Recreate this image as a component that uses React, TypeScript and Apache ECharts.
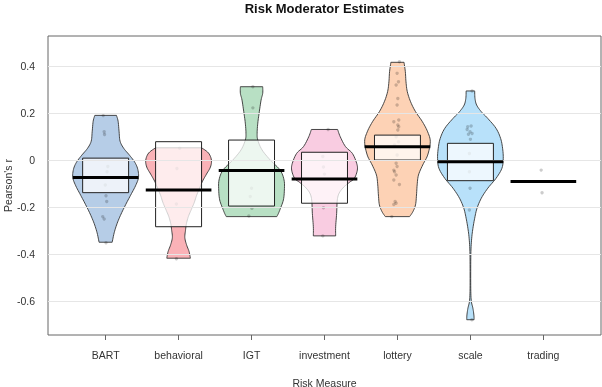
import React, { useEffect, useRef } from "react";
import * as echarts from "echarts";

const categories = ["BART", "behavioral", "IGT", "investment", "lottery", "scale", "trading"];
const baseColors = ["#0C5BB0", "#EE0011", "#15983D", "#EC579A", "#FA6B09", "#149BED", "#A1C720"];
const yTicks = [-0.6, -0.4, -0.2, 0, 0.2, 0.4];

const means = [-0.074, -0.128, -0.045, -0.081, 0.057, -0.007, -0.092];
const boxLow = [-0.139, -0.284, -0.196, -0.184, 0.0, -0.088, null];
const boxHigh = [0.008, 0.078, 0.085, 0.033, 0.106, 0.071, null];

// violin outlines: value levels and relative density (1 = widest)
const violinY_BART = [0.19, 0.165, 0.12, 0.08, 0.05, 0.02, -0.01, -0.04, -0.075, -0.11, -0.15, -0.19, -0.23, -0.27, -0.31, -0.35];
const violinD_BART = [0.33, 0.38, 0.41, 0.44, 0.55, 0.73, 0.89, 0.98, 1, 0.91, 0.76, 0.61, 0.47, 0.35, 0.26, 0.2];

const violinY_behavioral = [0.052, 0.03, 0.0, -0.03, -0.06, -0.09, -0.12, -0.15, -0.18, -0.21, -0.24, -0.27, -0.3, -0.33, -0.36, -0.39, -0.418];
const violinD_behavioral = [0.7, 0.91, 1, 0.97, 0.85, 0.73, 0.64, 0.55, 0.48, 0.39, 0.3, 0.24, 0.21, 0.19, 0.24, 0.32, 0.36];

const violinY_IGT = [0.312, 0.284, 0.255, 0.199, 0.157, 0.114, 0.085, 0.043, 0.0, -0.043, -0.085, -0.128, -0.17, -0.206, -0.227, -0.241];
const violinD_IGT = [0.34, 0.34, 0.29, 0.23, 0.19, 0.17, 0.19, 0.32, 0.57, 0.87, 0.99, 1, 0.97, 0.88, 0.82, 0.77];

const violinY_investment = [0.13, 0.099, 0.057, 0.028, -0.014, -0.043, -0.078, -0.095, -0.115, -0.14, -0.17, -0.227, -0.284, -0.323];
const violinD_investment = [0.4, 0.48, 0.64, 0.85, 0.98, 1, 0.91, 0.76, 0.59, 0.45, 0.39, 0.37, 0.34, 0.34];

const violinY_lottery = [0.416, 0.376, 0.333, 0.291, 0.248, 0.206, 0.163, 0.12, 0.078, 0.021, -0.021, -0.064, -0.106, -0.149, -0.191, -0.22, -0.241];
const violinD_lottery = [0.2, 0.24, 0.26, 0.3, 0.4, 0.55, 0.76, 0.92, 1, 0.92, 0.77, 0.64, 0.6, 0.58, 0.55, 0.47, 0.37];

const violinY_scale = [0.294, 0.262, 0.234, 0.206, 0.177, 0.135, 0.092, 0.05, 0.007, -0.035, -0.078, -0.12, -0.163, -0.206, -0.248, -0.291, -0.333, -0.39, -0.475, -0.56, -0.603, -0.631, -0.66, -0.68];
const violinD_scale = [0.13, 0.14, 0.19, 0.33, 0.53, 0.78, 0.92, 0.98, 1, 0.96, 0.78, 0.53, 0.33, 0.2, 0.13, 0.076, 0.039, 0.015, 0.009, 0.012, 0.03, 0.076, 0.106, 0.112];

// raw observations: [Pearson's r, horizontal jitter in category units]
const points_BART = [[0.189, -0.033], [0.12, -0.02], [0.109, -0.015], [-0.028, 0.03], [-0.05, 0.02], [-0.106, -0.005], [-0.152, 0.005], [-0.177, 0.015], [-0.241, -0.04], [-0.251, -0.02], [-0.352, 0.005]];
const points_behavioral = [[0.05, 0.015], [-0.036, -0.023], [-0.187, -0.03], [-0.42, -0.03]];
const points_IGT = [[0.312, 0.018], [0.222, 0.018], [-0.12, 0.0], [-0.155, -0.018], [-0.206, 0.005], [-0.238, -0.037]];
const points_investment = [[0.13, 0.05], [0.015, -0.023], [-0.03, -0.014], [-0.06, 0.0], [-0.203, -0.014], [-0.323, -0.023]];
const points_lottery = [[0.418, 0.027], [0.369, -0.005], [0.333, 0.014], [0.319, -0.018], [0.262, 0.005], [0.234, -0.005], [0.163, -0.05], [0.17, 0.018], [0.149, 0.005], [0.142, 0.018], [0.128, 0.005], [0.099, -0.018], [0.078, 0.014], [0.064, -0.04], [0.021, -0.005], [-0.014, -0.018], [-0.028, -0.005], [-0.043, -0.05], [-0.05, -0.04], [-0.064, -0.018], [-0.085, -0.05], [-0.104, 0.027], [-0.177, -0.032], [-0.184, -0.018], [-0.189, -0.05], [-0.241, -0.078]];
const points_scale = [[0.294, 0.023], [0.142, -0.037], [0.145, 0.01], [0.13, -0.045], [0.12, -0.005], [0.113, 0.023], [0.11, -0.027], [0.088, 0.0], [0.028, -0.014], [-0.007, 0.0], [-0.05, -0.014], [-0.12, -0.005], [-0.213, -0.014], [-0.68, 0.02]];
const points_trading = [[-0.043, -0.03], [-0.139, -0.018]];

const violinLevels = [violinY_BART, violinY_behavioral, violinY_IGT, violinY_investment, violinY_lottery, violinY_scale, null];
const violinDensity = [violinD_BART, violinD_behavioral, violinD_IGT, violinD_investment, violinD_lottery, violinD_scale, null];
const pointSets = [points_BART, points_behavioral, points_IGT, points_investment, points_lottery, points_scale, points_trading];

const BEAN_HALF = 0.45;
const BOX_HALF = 0.315;
const FONT = "'Liberation Sans', Arial, sans-serif";

function rgba(hex: string, a: number) {
  const n = parseInt(hex.slice(1), 16);
  return `rgba(${(n >> 16) & 255},${(n >> 8) & 255},${n & 255},${a})`;
}

function cr(p0: number, p1: number, p2: number, p3: number, t: number) {
  return 0.5 * (2 * p1 + (-p0 + p2) * t + (2 * p0 - 5 * p1 + 4 * p2 - p3) * t * t + (-p0 + 3 * p1 - 3 * p2 + p3) * t * t * t);
}

function smoothProfile(ys: number[], ds: number[], steps = 6) {
  const out: [number, number][] = [];
  const n = ys.length;
  for (let i = 0; i < n - 1; i++) {
    const i0 = Math.max(0, i - 1);
    const i3 = Math.min(n - 1, i + 2);
    for (let s = 0; s < steps; s++) {
      const t = s / steps;
      out.push([cr(ys[i0], ys[i], ys[i + 1], ys[i3], t), Math.max(0.006, cr(ds[i0], ds[i], ds[i + 1], ds[i3], t))]);
    }
  }
  out.push([ys[n - 1], ds[n - 1]]);
  return out;
}

export default function App() {
  const ref = useRef<HTMLDivElement>(null);

  useEffect(() => {
    if (!ref.current) return;
    const chart = echarts.init(ref.current, null, { renderer: "svg" });

    const violinData: any[] = [];
    const violinProfiles: [number, number][][] = [];
    categories.forEach((c, i) => {
      const ys = violinLevels[i];
      const ds = violinDensity[i];
      if (ys && ds) {
        violinData.push({ value: [i + 1, means[i]], fill: rgba(baseColors[i], 0.3) });
        violinProfiles.push(smoothProfile(ys, ds));
      }
    });

    const boxData: number[][] = [];
    categories.forEach((c, i) => {
      const lo = boxLow[i];
      const hi = boxHigh[i];
      if (lo !== null && hi !== null) boxData.push([i + 1, lo as number, hi as number]);
    });

    const meanData = means.map((m, i) => [i + 1, m]);

    const scatterData: number[][] = [];
    pointSets.forEach((set, i) => {
      set.forEach(([r, j]) => scatterData.push([i + 1 + j, r]));
    });

    const nameStyle = { fontSize: 10.5, fontFamily: FONT, fill: "#333", align: "center", verticalAlign: "middle" };

    const option: any = {
      animation: false,
      title: {
        text: "Risk Moderator Estimates",
        left: 324.5,
        textAlign: "center",
        top: 1.5,
        padding: 0,
        textStyle: { fontSize: 13, fontWeight: "bold", color: "#111", fontFamily: FONT },
      },
      graphic: [
        { type: "text", x: 324.5, y: 382.5, silent: true, style: { ...nameStyle, text: "Risk Measure" } },
        { type: "text", x: 8, y: 185.5, rotation: Math.PI / 2, silent: true, style: { ...nameStyle, text: "Pearson's r" } },
      ],
      grid: {
        left: 48,
        right: 1,
        top: 36,
        bottom: 52,
        show: true,
        borderColor: "#666",
        borderWidth: 1,
        backgroundColor: "transparent",
        containLabel: false,
        outerBoundsMode: "none",
      },
      xAxis: {
        type: "value",
        min: 0.21,
        max: 7.79,
        splitLine: { show: false },
        axisLine: { show: false, onZero: false },
        axisTick: { show: true, customValues: [1, 2, 3, 4, 5, 6, 7], length: 5, lineStyle: { color: "#666" } },
        axisLabel: {
          customValues: [1, 2, 3, 4, 5, 6, 7],
          formatter: (v: number) => categories[Math.round(v) - 1] ?? "",
          fontSize: 10.5,
          color: "#333",
          margin: 14,
          fontFamily: FONT,
        },
      },
      yAxis: {
        type: "value",
        min: -0.745,
        max: 0.528,
        splitLine: { show: false },
        axisLine: { show: false, onZero: false },
        axisTick: { show: false },
        axisLabel: {
          customValues: yTicks,
          formatter: (v: number) => (Math.abs(v) < 1e-9 ? "0" : String(v)),
          fontSize: 10.5,
          color: "#333",
          margin: 13,
          fontFamily: FONT,
        },
      },
      series: [
        {
          type: "line",
          data: [],
          z: 1,
          silent: true,
          markLine: {
            silent: true,
            symbol: ["none", "none"],
            label: { show: false },
            lineStyle: { color: "#e6e6e6", width: 1, type: "solid" },
            data: yTicks.map((v) => ({ yAxis: v })),
          },
        },
        {
          type: "custom",
          z: 2,
          silent: true,
          data: violinData,
          renderItem: (params: any, api: any) => {
            const cx = api.value(0);
            const prof = violinProfiles[params.dataIndex];
            const right = prof.map(([y, d]) => api.coord([cx + d * BEAN_HALF, y]));
            const left = prof
              .slice()
              .reverse()
              .map(([y, d]) => api.coord([cx - d * BEAN_HALF, y]));
            return {
              type: "polygon",
              shape: { points: right.concat(left) },
              style: { fill: violinData[params.dataIndex].fill, stroke: "#333", lineWidth: 0.9 },
            };
          },
        },
        {
          type: "scatter",
          z: 3,
          silent: true,
          symbolSize: 3.4,
          itemStyle: { color: "rgba(0,0,0,0.25)" },
          data: scatterData,
        },
        {
          type: "custom",
          z: 4,
          silent: true,
          data: boxData,
          renderItem: (params: any, api: any) => {
            const x = api.value(0);
            const p1 = api.coord([x - BOX_HALF, api.value(2)]);
            const p2 = api.coord([x + BOX_HALF, api.value(1)]);
            return {
              type: "rect",
              shape: { x: p1[0], y: p1[1], width: p2[0] - p1[0], height: p2[1] - p1[1] },
              style: { fill: "rgba(255,255,255,0.75)", stroke: "#222", lineWidth: 1 },
            };
          },
        },
        {
          type: "custom",
          z: 5,
          silent: true,
          data: meanData,
          renderItem: (params: any, api: any) => {
            const x = api.value(0);
            const m = api.value(1);
            const a = api.coord([x - BEAN_HALF, m]);
            const b = api.coord([x + BEAN_HALF, m]);
            return {
              type: "line",
              shape: { x1: a[0], y1: a[1], x2: b[0], y2: b[1] },
              style: { stroke: "#000", lineWidth: 3 },
            };
          },
        },
      ],
    };

    chart.setOption(option);
    return () => chart.dispose();
  }, []);

  return <div ref={ref} style={{ position: "fixed", left: 0, top: 0, width: 602, height: 387 }} />;
}
